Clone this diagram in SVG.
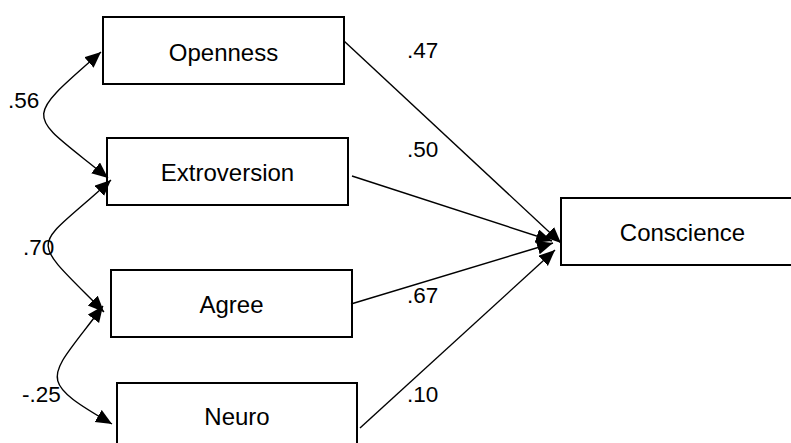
<svg xmlns="http://www.w3.org/2000/svg" width="791" height="443" viewBox="0 0 791 443">
<style>
.box{fill:#fff;stroke:#000;stroke-width:2}
.lbl{font-family:"Liberation Sans",Arial,sans-serif;font-size:24px;fill:#000;text-anchor:middle}
.num{font-family:"Liberation Sans",Arial,sans-serif;font-size:22.5px;fill:#000}
.edge{fill:none;stroke:#000;stroke-width:1.4}
</style>
<defs>
<marker id="ah" markerUnits="userSpaceOnUse" markerWidth="17" markerHeight="15" refX="16" refY="7" orient="auto-start-reverse">
<path d="M0,0 L16,7 L0,14 z" fill="#000"/>
</marker>
</defs>
<rect width="791" height="443" fill="#fff"/>
<g id="openness"><rect class="box" x="103" y="17" width="241" height="67"/><text class="lbl" x="223.5" y="61">Openness</text></g>
<g id="extroversion"><rect class="box" x="107" y="138" width="241" height="67"/><text class="lbl" x="227.5" y="181">Extroversion</text></g>
<g id="agree"><rect class="box" x="111" y="270" width="241" height="67"/><text class="lbl" x="231.5" y="313">Agree</text></g>
<g id="neuro"><rect class="box" x="117" y="383" width="240" height="67"/><text class="lbl" x="237" y="425">Neuro</text></g>
<g id="conscience"><rect class="box" x="561" y="198" width="240" height="67"/><text class="lbl" x="682.5" y="241">Conscience</text></g>
<g id="connectors">
<path class="edge" d="M344,41 L561,243" marker-end="url(#ah)"/>
<path class="edge" d="M352,176 L552,241" marker-end="url(#ah)"/>
<path class="edge" d="M351,304 L553,243" marker-end="url(#ah)"/>
<path class="edge" d="M360,428 L555,250" marker-end="url(#ah)"/>
<path class="edge" d="M108,178 C27,112 20,123 101,52" marker-start="url(#ah)" marker-end="url(#ah)"/>
<path class="edge" d="M111,180 C32,253 25,232 104,312" marker-start="url(#ah)" marker-end="url(#ah)"/>
<path class="edge" d="M103,306 C48,380 33,378 112,424" marker-start="url(#ah)" marker-end="url(#ah)"/>
</g>
<g id="labels">
<text class="num" x="8" y="108">.56</text>
<text class="num" x="23" y="255">.70</text>
<text class="num" x="22" y="402">-.25</text>
<text class="num" x="407" y="58">.47</text>
<text class="num" x="407" y="157">.50</text>
<text class="num" x="407" y="303">.67</text>
<text class="num" x="407" y="402">.10</text>
</g>
</svg>
